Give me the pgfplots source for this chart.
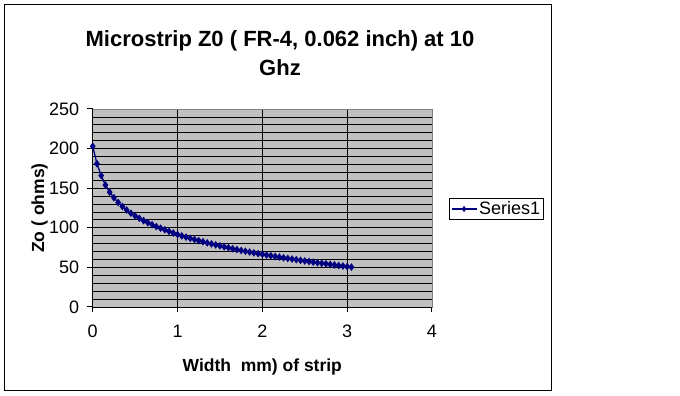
\documentclass[border=0pt]{standalone}
\usepackage{fontspec}
\setmainfont{Liberation Sans}
\usepackage{pgfplots}
\pgfplotsset{compat=1.18}
\definecolor{plotgray}{RGB}{192,192,192}
\definecolor{navyblue}{RGB}{0,0,128}
\begin{document}
\begin{tikzpicture}[x=1pt,y=1pt]
\useasboundingbox (0,0) rectangle (680,396);
\draw[black, line width=1pt] (4.5,5.5) rectangle (551,391.5);
\begin{axis}[
  at={(92.7pt,89pt)}, anchor=south west,
  scale only axis, width=339.3pt, height=198pt,
  xmin=0, xmax=4, ymin=0, ymax=250,
  xtick={0,1,2,3,4}, ytick={0,50,...,250},
  minor ytick={10,20,...,240},
  xmajorgrids, ymajorgrids, yminorgrids,
  major grid style={black, line width=0.8pt},
  minor grid style={black, line width=0.8pt},
  minor tick length=0pt,
  major tick length=5.5pt,
  tick align=outside,
  xtick pos=left, ytick pos=left,
  major tick style={black, line width=1pt},
  axis background/.style={fill=plotgray},
  axis line style={draw=gray, line width=0.8pt},
  ticklabel style={font=\fontsize{18}{21}\selectfont},
  xticklabel style={yshift=-9pt},
  yticklabel style={xshift=-4.5pt},
  /pgf/number format/assume math mode=true,
  clip=false,
  legend style={at={(1.050,0.495)}, anchor=west, draw=black, line width=0.8pt, fill=white, font=\fontsize{18}{21}\selectfont, inner sep=1.5pt},
  legend cell align=left,
  legend image code/.code={\draw[#1] (0pt,0pt) -- (25pt,0pt); \draw[#1, mark size=2pt] plot coordinates {(12.5pt,0pt)};},
]
\addplot[navyblue, line width=1.3pt, mark=diamond*, mark size=2.8pt, mark options={fill=navyblue}] coordinates {
(0,203) (0.05,181) (0.1,166) (0.15,154) (0.2,145) (0.25,138) (0.3,132) (0.35,127)
(0.4,122.5) (0.45,118.5) (0.5,115) (0.55,112) (0.6,109) (0.65,106.5) (0.7,104)
(0.75,101.5) (0.8,99.5) (0.85,97.5) (0.9,95.5) (0.95,93.5) (1.0,91.5)
(1.05,89.8) (1.1,88.2) (1.15,86.7) (1.2,85.2) (1.25,83.8) (1.3,82.4) (1.35,81.0)
(1.4,79.7) (1.45,78.4) (1.5,77.2) (1.55,76.0) (1.6,74.8) (1.65,73.6) (1.7,72.5)
(1.75,71.4) (1.8,70.4) (1.85,69.4) (1.9,68.4) (1.95,67.4) (2.0,66.5)
(2.05,65.6) (2.1,64.7) (2.15,63.8) (2.2,63.0) (2.25,62.1) (2.3,61.3) (2.35,60.5)
(2.4,59.7) (2.45,58.9) (2.5,58.1) (2.55,57.4) (2.6,56.6) (2.65,55.9) (2.7,55.2)
(2.75,54.5) (2.8,53.8) (2.85,53.1) (2.9,52.4) (2.95,51.7) (3.0,51.1) (3.05,50.4)
};
\legend{Series1}
\draw[black, line width=0.8pt] (rel axis cs:0,1) -- (rel axis cs:0,0) -- (rel axis cs:1,0);
\end{axis}
\node[font=\fontsize{22}{26}\selectfont\bfseries, anchor=base] at (280,349) {Microstrip Z0 ( FR-4, 0.062 inch) at 10};
\node[font=\fontsize{22}{26}\selectfont\bfseries, anchor=base] at (280,320) {Ghz};
\node[font=\fontsize{17.5}{20}\selectfont\bfseries, anchor=base] at (262.3,24.3) {Width\ \ mm) of strip};
\node[font=\fontsize{17.5}{20}\selectfont\bfseries, anchor=base, rotate=90] at (44,188) {Zo ( ohms)};
\end{tikzpicture}
\end{document}
